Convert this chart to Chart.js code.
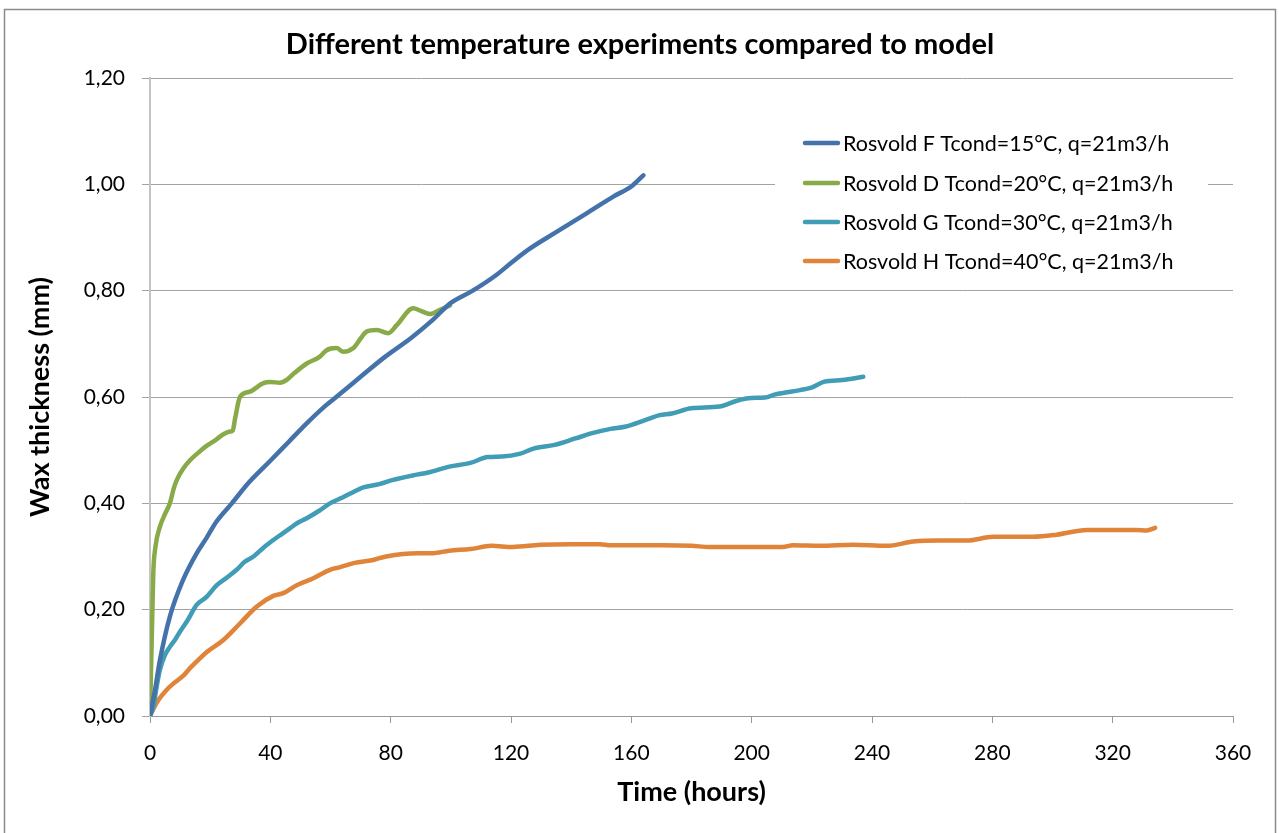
<!DOCTYPE html>
<html>
<head>
<meta charset="utf-8">
<script src="https://cdn.jsdelivr.net/npm/chart.js@4.4.1/dist/chart.umd.min.js"></script>
<style>
html,body{margin:0;padding:0;background:#fff;}
#wrap{width:1279px;height:833px;}
</style>
</head>
<body>
<div id="wrap"><canvas id="c" width="1279" height="833"></canvas></div>
<script>
const chartTitle = 'Different temperature experiments compared to model';
const xAxisTitle = 'Time (hours)';
const yAxisTitle = 'Wax thickness (mm)';
const seriesNames = [
  'Rosvold F Tcond=15°C, q=21m3/h',
  'Rosvold D Tcond=20°C, q=21m3/h',
  'Rosvold G Tcond=30°C, q=21m3/h',
  'Rosvold H Tcond=40°C, q=21m3/h'
];
const seriesColors = ['#4472AA', '#88AA48', '#419DB6', '#E0843A'];

const xTickValues = [0, 40, 80, 120, 160, 200, 240, 280, 320, 360];
const yTickLabels = ['0,00', '0,20', '0,40', '0,60', '0,80', '1,00', '1,20'];

const hoursF = [0, 1.7, 3.3, 6.6, 11, 15.5, 18.8, 22, 27.2, 33, 40, 46, 52, 58, 63, 70, 78, 87, 94, 100, 107, 115, 120, 126, 135, 145, 154, 160, 164];
const waxF   = [0, 0.05, 0.105, 0.187, 0.256, 0.306, 0.335, 0.365, 0.40, 0.44, 0.48, 0.515, 0.55, 0.582, 0.605, 0.638, 0.675, 0.712, 0.745, 0.777, 0.799, 0.829, 0.852, 0.878, 0.91, 0.945, 0.977, 0.996, 1.017];

const hoursD = [0, 0.8, 1.1, 1.8, 3.3, 5, 6.6, 8, 9, 11, 13.3, 16, 18.8, 22, 24.4, 26.6, 27.5, 28.3, 29.9, 33.2, 37.7, 40, 43.2, 45.4, 48, 52.1, 56.5, 58.7, 62, 64.3, 67.6, 70, 72, 75.4, 79.2, 82, 87.5, 90, 93.1, 96.4, 99.7];
const waxD   = [0, 0.20, 0.27, 0.318, 0.356, 0.38, 0.40, 0.43, 0.445, 0.465, 0.481, 0.495, 0.508, 0.52, 0.53, 0.535, 0.537, 0.56, 0.60, 0.61, 0.626, 0.628, 0.627, 0.632, 0.645, 0.663, 0.676, 0.688, 0.692, 0.685, 0.692, 0.71, 0.723, 0.726, 0.72, 0.735, 0.767, 0.762, 0.756, 0.764, 0.772];

const hoursG = [0, 1.1, 2.2, 3.3, 5, 6.6, 8.5, 10, 12.5, 15.5, 18.8, 22.2, 25.5, 28.8, 31.5, 34.4, 38, 41, 44, 46.5, 49, 52.1, 56.5, 59.8, 63.2, 66.8, 70.9, 76.2, 80.8, 87.8, 92.5, 99.5, 106.5, 112.3, 117, 122.8, 127.5, 134.5, 141.4, 147, 153.1, 157.8, 164.8, 169.4, 173.5, 179.9, 189.3, 195.1, 199.8, 204.4, 207.9, 216.1, 219.6, 224.2, 230.1, 237.1];
const waxG   = [0, 0.017, 0.055, 0.087, 0.115, 0.130, 0.145, 0.159, 0.18, 0.209, 0.224, 0.246, 0.26, 0.275, 0.29, 0.300, 0.318, 0.331, 0.343, 0.353, 0.363, 0.372, 0.387, 0.400, 0.409, 0.419, 0.430, 0.436, 0.444, 0.453, 0.458, 0.469, 0.476, 0.487, 0.488, 0.493, 0.503, 0.510, 0.522, 0.532, 0.540, 0.544, 0.557, 0.566, 0.569, 0.579, 0.582, 0.593, 0.598, 0.599, 0.605, 0.613, 0.617, 0.629, 0.632, 0.638];

const hoursH = [0, 1, 2.8, 5.5, 8, 11.1, 13.3, 16, 18.8, 24.4, 29.9, 35.5, 41, 44.3, 48.8, 54.3, 59.8, 63.2, 68, 73.8, 78.5, 89, 93.6, 99.5, 106.5, 113.5, 120.5, 129.8, 140, 149.6, 153.1, 170.6, 180, 186, 192.8, 200, 210.3, 213.7, 222.7, 233.8, 244.9, 253.7, 262, 271.5, 280.3, 293.6, 301.4, 311.4, 320, 328, 331.3, 334.1];
const waxH   = [0, 0.012, 0.03, 0.049, 0.062, 0.076, 0.090, 0.105, 0.12, 0.143, 0.174, 0.206, 0.226, 0.231, 0.246, 0.259, 0.275, 0.280, 0.288, 0.293, 0.300, 0.306, 0.306, 0.311, 0.314, 0.320, 0.318, 0.322, 0.323, 0.323, 0.321, 0.321, 0.32, 0.318, 0.318, 0.318, 0.318, 0.321, 0.320, 0.322, 0.320, 0.328, 0.330, 0.330, 0.337, 0.337, 0.341, 0.350, 0.350, 0.350, 0.349, 0.354];

const FONT = 'Lato, "Open Sans", "DejaVu Sans", sans-serif';

function pts(xs, ys) { return xs.map((x, i) => ({x: x, y: ys[i]})); }
const allX = [hoursF, hoursD, hoursG, hoursH];
const allY = [waxF, waxD, waxG, waxH];

const datasets = seriesNames.map((name, i) => ({
  label: name,
  data: pts(allX[i], allY[i]),
  borderColor: seriesColors[i],
  backgroundColor: seriesColors[i],
  borderWidth: 4.5,
  pointRadius: 0,
  fill: false,
  cubicInterpolationMode: 'monotone',
  borderCapStyle: 'round',
  borderJoinStyle: 'round'
}));

const frame = {
  id: 'frame',
  beforeDraw(chart) {
    const ctx = chart.ctx;
    ctx.save();
    ctx.fillStyle = '#fff';
    ctx.fillRect(0, 0, chart.width, chart.height);
    ctx.strokeStyle = '#8a8a8a';
    ctx.lineWidth = 1.5;
    ctx.strokeRect(4.5, 9.5, 1271, 900);
    ctx.fillStyle = '#000';
    ctx.font = 'bold 29px ' + FONT;
    ctx.textAlign = 'center';
    ctx.textBaseline = 'middle';
    ctx.fillText(chartTitle, 640, 45);
    ctx.restore();
  }
};

const innerLegend = {
  id: 'innerLegend',
  afterDatasetsDraw(chart) {
    const ctx = chart.ctx;
    ctx.save();
    ctx.fillStyle = '#fff';
    ctx.fillRect(775, 120, 433, 160);
    ctx.font = '21.5px ' + FONT;
    ctx.textBaseline = 'middle';
    ctx.textAlign = 'left';
    const rowY = [143, 183, 222, 261];
    chart.data.datasets.forEach((ds, i) => {
      const y = rowY[i];
      ctx.strokeStyle = ds.borderColor;
      ctx.lineWidth = 4.5;
      ctx.lineCap = 'round';
      ctx.beginPath();
      ctx.moveTo(805, y);
      ctx.lineTo(838, y);
      ctx.stroke();
      ctx.fillStyle = '#000';
      ctx.fillText(ds.label, 843, y + 1);
    });
    ctx.restore();
  }
};

new Chart(document.getElementById('c'), {
  type: 'line',
  data: { datasets: datasets },
  plugins: [frame, innerLegend],
  options: {
    responsive: false,
    animation: false,
    devicePixelRatio: 1,
    layout: { padding: { left: 0, right: 46, top: 78, bottom: 0 } },
    plugins: {
      legend: { display: false },
      tooltip: { enabled: false },
      title: { display: false }
    },
    scales: {
      x: {
        type: 'linear',
        min: 0, max: 360,
        afterFit(scale) { scale.height = 117; },
        afterBuildTicks(scale) { scale.ticks = xTickValues.map(v => ({value: v})); },
        ticks: {
          color: '#000',
          font: { family: FONT, size: 21 },
          padding: 18,
          maxRotation: 0,
          callback: (v) => String(v)
        },
        grid: { drawOnChartArea: false, drawTicks: true, tickLength: 7, color: '#999', lineWidth: 1 },
        border: { display: true, color: '#999', width: 1 },
        title: {
          display: true,
          text: xAxisTitle,
          color: '#000',
          font: { family: FONT, size: 27, weight: 'bold', lineHeight: 1.2 },
          padding: { top: 0, bottom: 25 }
        }
      },
      y: {
        type: 'linear',
        min: 0, max: 1.2,
        afterFit(scale) { scale.width = 150; },
        ticks: {
          stepSize: 0.2,
          color: '#000',
          font: { family: FONT, size: 21 },
          padding: 17,
          callback: (v, i) => yTickLabels[i]
        },
        grid: { drawOnChartArea: true, drawTicks: true, tickLength: 8, color: '#a3a3a3', lineWidth: 1 },
        border: { display: true, color: '#c4c4c4', width: 2 },
        title: {
          display: true,
          text: yAxisTitle,
          color: '#000',
          font: { family: FONT, size: 27, weight: 'bold', lineHeight: 1.2 },
          padding: { top: 24, bottom: 0 }
        }
      }
    }
  }
});
</script>
</body>
</html>
